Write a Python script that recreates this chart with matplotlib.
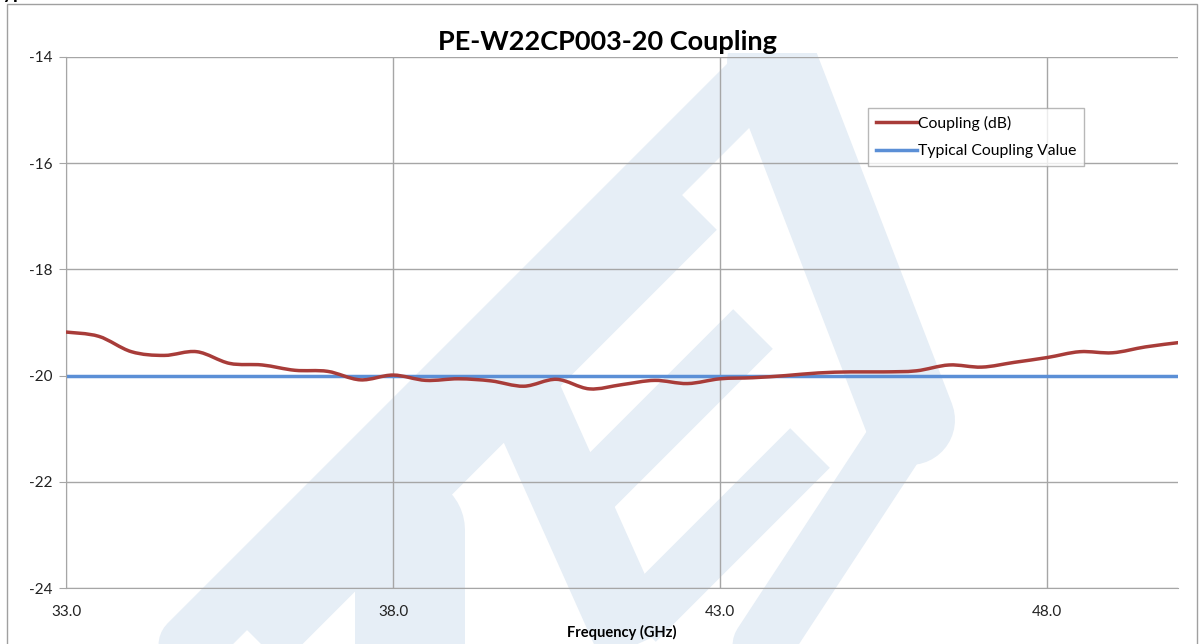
import matplotlib
matplotlib.use("Agg")
from matplotlib import pyplot as plt
from matplotlib.path import Path
from matplotlib.patches import PathPatch, Rectangle
from matplotlib.lines import Line2D

plt.rcParams['font.family'] = ['Lato', 'DejaVu Sans']
plt.rcParams['axes.unicode_minus'] = False

freq_ghz = [33.0, 33.5, 34.0, 34.5, 35.0, 35.5, 36.0, 36.5, 37.0, 37.5, 38.0, 38.5,
            39.0, 39.5, 40.0, 40.5, 41.0, 41.5, 42.0, 42.5, 43.0, 43.5, 44.0, 44.5,
            45.0, 45.5, 46.0, 46.5, 47.0, 47.5, 48.0, 48.5, 49.0, 49.5, 50.0]
coupling_db = [-19.18, -19.26, -19.55, -19.62, -19.55, -19.77, -19.80, -19.90, -19.92,
               -20.08, -19.99, -20.09, -20.06, -20.10, -20.20, -20.07, -20.25, -20.17,
               -20.09, -20.15, -20.06, -20.04, -20.00, -19.95, -19.93, -19.93, -19.91,
               -19.80, -19.84, -19.75, -19.66, -19.55, -19.57, -19.46, -19.38]
typical_freq = [33.0, 50.0]
typical_db = [-20.0, -20.0]

x_ticks = [33.0, 38.0, 43.0, 48.0]
y_ticks = [-24, -22, -20, -18, -16, -14]

red = '#A83C39'
blue = '#5B8FD6'
grid_gray = '#A6A6A6'
wm = '#E6EEF6'

W, H = 1204, 644


def px(x, y):
    return (x / W, 1 - y / H)


def smooth_path(xs, ys):
    # excel-style smoothed line: catmull-rom turned into cubic beziers
    verts = [(xs[0], ys[0])]
    codes = [Path.MOVETO]
    n = len(xs)
    for i in range(n - 1):
        x0, y0 = (xs[i - 1], ys[i - 1]) if i > 0 else (xs[i], ys[i])
        x1, y1 = xs[i], ys[i]
        x2, y2 = xs[i + 1], ys[i + 1]
        x3, y3 = (xs[i + 2], ys[i + 2]) if i + 2 < n else (x2, y2)
        c1 = (x1 + (x2 - x0) / 6, y1 + (y2 - y0) / 6)
        c2 = (x2 - (x3 - x1) / 6, y2 - (y3 - y1) / 6)
        verts += [c1, c2, (x2, y2)]
        codes += [Path.CURVE4] * 3
    return Path(verts, codes)


fig = plt.figure(figsize=(12.04, 6.44), dpi=100)

# chart border
fig.patches.append(Rectangle(px(7, 700), 1190 / W, 696 / H, transform=fig.transFigure,
                             fill=False, edgecolor='#A0A0A0', lw=1, zorder=-1))

# faint logo watermark (pixel coords, clipped below the title)
k = 0.72
clip = Rectangle(px(0, 644), 1, 591 / H, transform=fig.transFigure)
wm_strokes = [
    ([(772, 62), (50, 784)], 61, 'round'),     # frame, left arm
    ([(772, 62), (910, 420)], 90, 'round'),    # frame, right arm
    ([(910, 420), (720, 710)], 60, 'round'),   # frame, lower arm
    ([(697, 210), (100, 807)], 56, 'butt'),    # bars
    ([(753, 329), (578, 504)], 56, 'butt'),
    ([(810, 448), (636, 622)], 56, 'butt'),
    ([(507, 358), (660, 700)], 75, 'butt'),    # spine
    ([(410, 530), (410, 720)], 110, 'round'),  # bowl
]
for pts, w, cap in wm_strokes:
    ln = Line2D(*zip(*[px(*p) for p in pts]), transform=fig.transFigure, color=wm,
                lw=w * k, solid_capstyle=cap, solid_joinstyle='round', zorder=-0.5)
    ln.set_clip_path(clip)
    fig.lines.append(ln)

# heading of the page above the chart, cut off by the top edge (only descenders show)
fig.text(-9 / W, 1 + 1 / H, 'Typical Performance Data', fontsize=14, fontweight='bold',
         va='baseline', ha='left')

ax = fig.add_axes([66 / W, 56 / H, 1112 / W, 531 / H])
ax.patch.set_alpha(0)

ax.add_patch(PathPatch(smooth_path(freq_ghz, coupling_db), fill=False,
                       edgecolor=red, lw=2.5, capstyle='round', zorder=3))
ax.plot(typical_freq, typical_db, color=blue, lw=2.5, zorder=2)

ax.set_xlim(33, 50)
ax.set_ylim(-24, -14)
ax.set_xticks(x_ticks)
ax.set_xticklabels([f'{v:.1f}' for v in x_ticks])
ax.set_yticks(y_ticks)
ax.grid(True, color=grid_gray, lw=1)
ax.set_axisbelow(True)
for s in ['top', 'right']:
    ax.spines[s].set_visible(False)
for s in ['left', 'bottom']:
    ax.spines[s].set_color(grid_gray)
ax.tick_params(axis='y', length=5, color=grid_gray, pad=5, labelsize=11, labelcolor='#222222')
ax.tick_params(axis='x', length=0, pad=12, labelsize=11, labelcolor='#222222')

fig.text(607 / W, 1 - 50 / H, 'PE-W22CP003-20 Coupling', fontsize=19.5, fontweight='bold',
         ha='center', va='baseline')
fig.text(622 / W, 1 - 632 / H, 'Frequency (GHz)', fontsize=10.5, fontweight='bold',
         ha='center', va='center')

handles = [Line2D([], [], color=red, lw=2.5), Line2D([], [], color=blue, lw=2.5)]
leg = fig.legend(handles, ['Coupling (dB)', 'Typical Coupling Value'],
                 loc='upper left', bbox_to_anchor=px(868, 108), fontsize=11.3,
                 frameon=True, fancybox=False, handlelength=2.6, handletextpad=0.1,
                 borderpad=0.5, labelspacing=0.85, borderaxespad=0)
leg.get_frame().set_edgecolor(grid_gray)
leg.get_frame().set_linewidth(1)

fig.savefig('out.png', dpi=100)
